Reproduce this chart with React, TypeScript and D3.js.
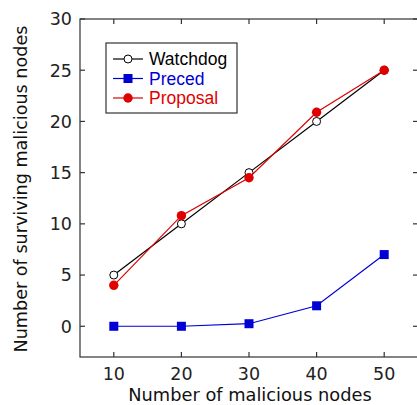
import React, { useEffect, useRef } from 'react';
import * as d3 from 'd3';

const nodes = [10, 20, 30, 40, 50];
const watchdog = [5, 10, 15, 20, 25];
const preced = [0, 0, 0.25, 2, 7];
const proposal = [4, 10.8, 14.5, 20.9, 25];
const yTicks = [0, 5, 10, 15, 20, 25, 30];

const series = [
  { name: 'Watchdog', values: watchdog, color: '#000000', marker: 'open' },
  { name: 'Preced', values: preced, color: '#0000d4', marker: 'square' },
  { name: 'Proposal', values: proposal, color: '#e00000', marker: 'dot' },
];

function App() {
  const ref = useRef<SVGSVGElement>(null);

  useEffect(() => {
    const width = 417, height = 405;
    const m = { top: 19, right: -1, bottom: 48, left: 80 };
    const font = 'DejaVu Sans, sans-serif';
    const legendFont = 'Liberation Sans, Arial, sans-serif';

    const svg = d3.select(ref.current);
    svg.selectAll('*').remove();

    const x = d3.scaleLinear().domain([5, 55]).range([m.left, width - m.right]);
    const y = d3.scaleLinear().domain([-3, 30]).range([height - m.bottom, m.top]);

    const frame = svg.append('g').attr('stroke', '#333').attr('stroke-width', 1.2).attr('fill', 'none');
    frame.append('rect')
      .attr('x', x(5)).attr('y', y(30))
      .attr('width', x(55) - x(5)).attr('height', y(-3) - y(30));

    const tl = 5;
    nodes.forEach(v => {
      frame.append('line').attr('x1', x(v)).attr('x2', x(v)).attr('y1', y(-3)).attr('y2', y(-3) - tl);
      frame.append('line').attr('x1', x(v)).attr('x2', x(v)).attr('y1', y(30)).attr('y2', y(30) + tl);
    });
    yTicks.forEach(v => {
      frame.append('line').attr('x1', x(5)).attr('x2', x(5) + tl).attr('y1', y(v)).attr('y2', y(v));
      frame.append('line').attr('x1', x(55)).attr('x2', x(55) - tl).attr('y1', y(v)).attr('y2', y(v));
    });

    svg.append('g').selectAll('text').data(nodes).join('text')
      .attr('x', d => x(d)).attr('y', 380)
      .attr('text-anchor', 'middle').attr('font-family', font).attr('font-size', 17.5).attr('fill', '#222')
      .text(d => d);
    svg.append('g').selectAll('text').data(yTicks).join('text')
      .attr('x', x(5) - 8).attr('y', d => y(d) + 6.4)
      .attr('text-anchor', 'end').attr('font-family', font).attr('font-size', 17.5).attr('fill', '#222')
      .text(d => d);

    svg.append('text')
      .attr('x', 250).attr('y', 401)
      .attr('text-anchor', 'middle').attr('font-family', font).attr('font-size', 17.8).attr('fill', '#111')
      .text('Number of malicious nodes');
    svg.append('text')
      .attr('transform', 'translate(27,189) rotate(-90)')
      .attr('text-anchor', 'middle').attr('font-family', font).attr('font-size', 17.6).attr('fill', '#111')
      .text('Number of surviving malicious nodes');

    const line = d3.line<number>().x((d, i) => x(nodes[i])).y(d => y(d));

    const drawMarker = (g: any, kind: string, color: string, cx: number, cy: number) => {
      if (kind === 'open') {
        g.append('circle').attr('cx', cx).attr('cy', cy).attr('r', 4)
          .attr('fill', '#fff').attr('stroke', color).attr('stroke-width', 1);
      } else if (kind === 'square') {
        g.append('rect').attr('x', cx - 4.5).attr('y', cy - 4.5).attr('width', 9).attr('height', 9)
          .attr('fill', color);
      } else {
        g.append('circle').attr('cx', cx).attr('cy', cy).attr('r', 4.7).attr('fill', color);
      }
    };

    series.forEach(s => {
      const g = svg.append('g');
      g.append('path').datum(s.values).attr('d', line)
        .attr('fill', 'none').attr('stroke', s.color).attr('stroke-width', 1.2);
      s.values.forEach((v, i) => drawMarker(g, s.marker, s.color, x(nodes[i]), y(v)));
    });

    // legend
    const lg = svg.append('g');
    lg.append('rect').attr('x', 106).attr('y', 43).attr('width', 131).attr('height', 70)
      .attr('fill', '#fff').attr('stroke', '#333').attr('stroke-width', 1.2);
    series.forEach((s, i) => {
      const ly = 59 + i * 19.5;
      lg.append('line').attr('x1', 113).attr('x2', 143).attr('y1', ly).attr('y2', ly)
        .attr('stroke', s.color).attr('stroke-width', 1.2);
      drawMarker(lg, s.marker, s.color, 128, ly);
      lg.append('text').attr('x', 149).attr('y', ly + 6.4)
        .attr('font-family', legendFont).attr('font-size', 17.5).attr('fill', s.color)
        .text(s.name);
    });
  }, []);

  return <svg ref={ref} width={417} height={405} style={{ position: 'absolute', left: 0, top: 0 }} />;
}

export default App;
